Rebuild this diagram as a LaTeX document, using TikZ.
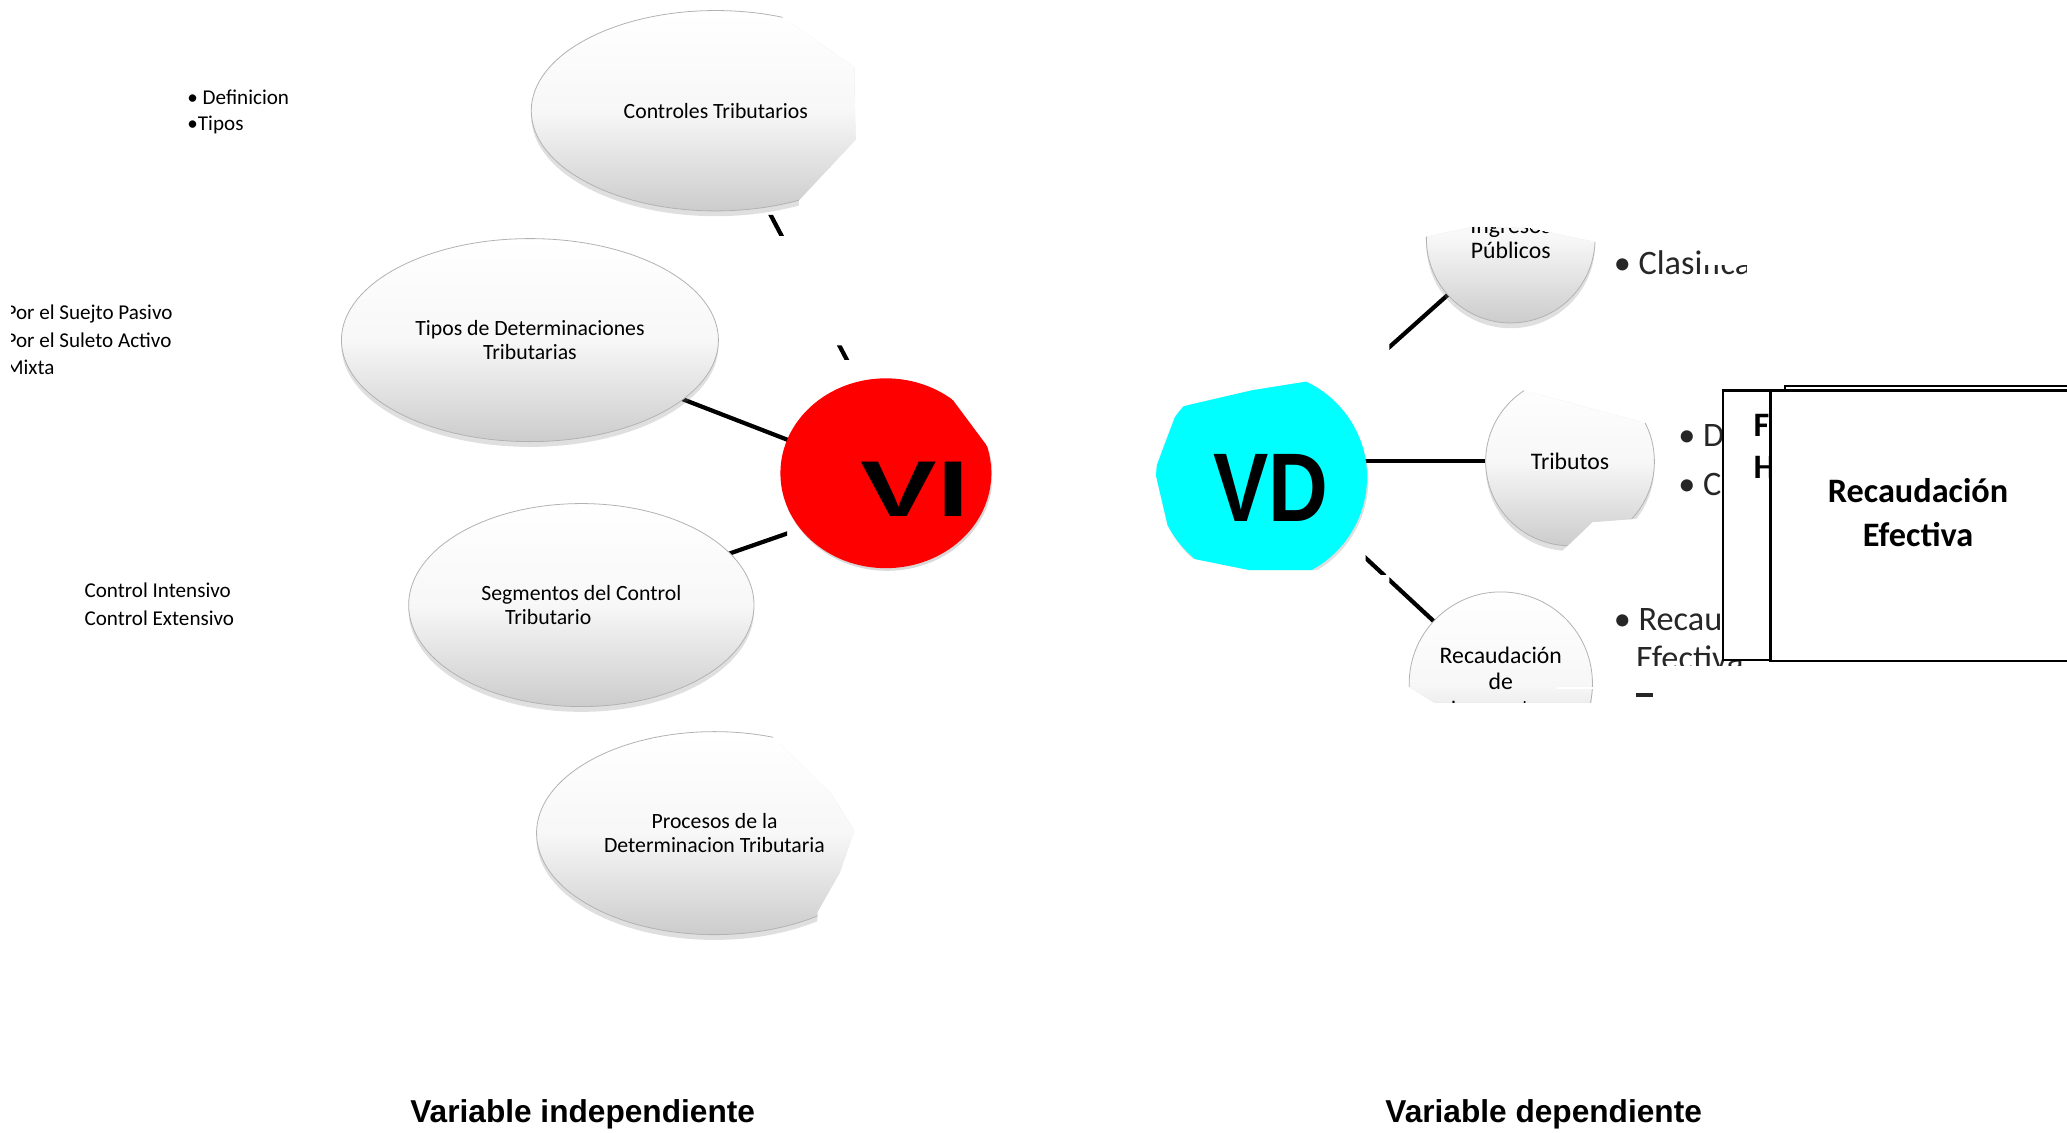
\documentclass[tikz,border=0pt]{standalone}
\usepackage{fontspec}
\setmainfont{Carlito}
\newfontfamily\labelfont{Liberation Sans}
\usetikzlibrary{shapes.geometric,shadows}
\pgfdeclarelayer{links}
\pgfsetlayers{links,main}
\definecolor{vired}{RGB}{255,0,0}
\definecolor{vdcyan}{RGB}{0,255,255}
\begin{document}
\begin{tikzpicture}[x=1pt,y=-1pt,
  bubble/.style={ellipse, draw=black!30, line width=0.6pt,
    top color=white, bottom color=black!20, middle color=black!3,
    inner sep=0pt, align=center, text=black,
    font=\fontsize{16.5}{18}\selectfont,
    drop shadow={shadow xshift=0pt,shadow yshift=-4pt,opacity=0.25}},
  ball/.style={bubble, circle, font=\fontsize{18}{19.5}\selectfont},
  link/.style={line width=3.2pt, black},
  note/.style={anchor=west, inner sep=0pt, font=\fontsize{16}{20}\selectfont},
  bignote/.style={anchor=base west, inner sep=0pt, text=black!85,
    font=\fontsize{26}{30}\selectfont},
  boldnote/.style={anchor=base west, inner sep=0pt,
    font=\fontsize{26}{33}\selectfont\bfseries},
  boxline/.style={draw=black, line width=2pt, fill=white},
  caption/.style={inner sep=0pt, font=\labelfont\bfseries\fontsize{24}{28}\selectfont},
  hubtext/.style={inner sep=0pt, font=\labelfont\bfseries}
]
\begin{pgfonlayer}{links}
  \fill[white] (0,0) rectangle (1568,859);
\end{pgfonlayer}
\useasboundingbox (0,0) rectangle (1568,859);

% ---------- left column notes ----------
\node[note] (defn) at (142,74) {• Definicion};
\node[note] (tipo) at (142,95) {•Tipos};
\begin{scope}
  \clip (9,220) rectangle (220,295);
  \node[note] (pasivo) at (4,238) {Por el Suejto Pasivo};
  \node[note] (activo) at (4,258) {Por el Suleto Activo};
  \node[note] (mixta)  at (4,279) {Mixta};
\end{scope}
\node[note] (intens) at (64,448) {Control Intensivo};
\node[note] (extens) at (64,469) {Control Extensivo};

% ---------- independent variable ----------
\begin{scope}
  \clip (380,0) -- (589,0) -- (589,10) -- (648,51) -- (649,106) -- (606,152)
        -- (606,175) -- (380,175) -- cycle;
  \node[bubble, minimum width=280pt, minimum height=152pt] (ctrl) at (543,84)
    {Controles Tributarios};
\end{scope}

\node[bubble, minimum width=286pt, minimum height=154pt] (tipos) at (402,258)
  {Tipos de Determinaciones\\Tributarias};

\node[bubble, align=left, minimum width=262pt, minimum height=154pt] (segm) at (441,459)
  {Segmentos del Control\\\hspace*{18pt}Tributario};

\begin{scope}
  \clip (390,540) -- (583,540) -- (583,556) -- (631,603) -- (648,630) -- (637,662)
        -- (620,692) -- (620,725) -- (390,725) -- cycle;
  \node[bubble, minimum width=270pt, minimum height=154pt] (proc) at (542,632)
    {Procesos de la\\Determinacion Tributaria};
\end{scope}

\begin{scope}
  \clip (580,270) -- (688,270) -- (688,287) -- (718,297) -- (753,344) -- (752,375)
        -- (745,398) -- (744,445) -- (580,445) -- cycle;
  \node[ellipse, fill=vired, minimum width=160pt, minimum height=144pt,
        drop shadow={shadow xshift=1pt,shadow yshift=-2pt,opacity=0.3}] (vi) at (672,359) {};
  \node[hubtext, font=\labelfont\bfseries\fontsize{60}{60}\selectfont] (vitext) at (694,371)
    {\scalebox{1.45}[1]{VI}};
\end{scope}

\begin{pgfonlayer}{links}
  \begin{scope}
    \clip (576,163) rectangle (600,179) (628,262) rectangle (648,273);
    \draw[link] (ctrl.center) -- ([xshift=22pt,yshift=-12pt]vi.center);
  \end{scope}
  \draw[link] (tipos.center) -- ([xshift=22pt,yshift=-12pt]vi.center);
  \begin{scope}
    \clip (440,380) rectangle (597,470);
    \draw[link] (segm.center) -- ([xshift=22pt,yshift=-12pt]vi.center);
  \end{scope}
\end{pgfonlayer}

% ---------- dependent variable ----------
\begin{scope}
  \clip (894,309) -- (950,296) -- (994,289) -- (1045,284) -- (1045,432.5)
        -- (948,432.5) -- (891,421) -- (876,357) -- cycle;
  \node[circle, fill=vdcyan, minimum size=160pt,
        drop shadow={shadow xshift=1pt,shadow yshift=-2pt,opacity=0.25}] (vd) at (957,362) {};
  \node[hubtext, font=\labelfont\bfseries\fontsize{74}{74}\selectfont] (vdtext) at (964,370)
    {\scalebox{0.85}[1]{VD}};
\end{scope}

\begin{scope}
  \clip (1075,181) -- (1118,172) -- (1160,173) -- (1212,184) -- (1215,265)
        -- (1075,265) -- cycle;
  \node[ball, minimum size=128pt] (ingresos) at (1146,181) {Ingresos\\Públicos};
\end{scope}

\begin{scope}
  \clip (1115,285) -- (1155,285) -- (1155,296) -- (1252,322) -- (1262,322)
        -- (1262,392) -- (1208,396) -- (1185,418) -- (1115,418) -- cycle;
  \node[ball, minimum size=128pt] (tributos) at (1191,350) {Tributos};
\end{scope}

\begin{scope}
  \clip (1060,440) -- (1216,440) -- (1216,533) -- (1088,533) -- (1069,521)
        -- (1060,521) -- cycle;
  \node[ball, minimum size=139pt, font=\fontsize{18}{20}\selectfont] (recaud) at (1138.5,518.5)
    {Recaudación\\de\\Impuestos};
\end{scope}
\draw[white, line width=1.5pt] (1181,522) -- (1211,522);

\begin{pgfonlayer}{links}
  \begin{scope}
    \clip (1054,215) rectangle (1110,268);
    \draw[link] ([yshift=12pt]vd.center) -- (ingresos.center);
  \end{scope}
  \draw[link] (tributos.center) -- (tributos.center -| vd.center);
  \begin{scope}
    \clip (1036,410) rectangle (1051.5,436) (1054,437.5) rectangle (1100,480);
    \draw[link] ([yshift=12pt]vd.center) -- (recaud.center);
  \end{scope}
\end{pgfonlayer}

% ---------- item lists beside the circles ----------
\begin{scope}
  \clip (1218,185) rectangle (1290,216) (1289,200.5) rectangle (1325,216);
  \node[bignote] (clasif1) at (1224,208) {• Clasifica};
\end{scope}
\node[bignote] (defin2) at (1273,339) {• De};
\node[bignote] (clasif2) at (1273,376) {• Cla};
\node[bignote] (recau) at (1224,478) {• Recaudación};
\begin{scope}
  \clip (1220,480) rectangle (1345,505);
  \node[bignote] (efect) at (1241,508) {Efectiva};
\end{scope}
\fill[black!85] (1241,526) rectangle (1254,528.5);

% ---------- stacked boxes ----------
\draw[boxline] (1354,292.8) rectangle (1590,498);
\draw[boxline] (1307,296) rectangle (1380,500.7);
\node[boldnote] (fa) at (1330,331) {F};
\node[boldnote] (ha) at (1330,363) {H};
\draw[boxline] (1343,296.4) rectangle (1590,501.5);
\node[inner sep=0pt, align=center, font=\fontsize{26}{33}\selectfont\bfseries] (boxtext)
  at (1455,389) {Recaudación\\Efectiva};

% ---------- captions ----------
\node[caption] (capvi) at (442,845) {Variable independiente};
\node[caption] (capvd) at (1171,845) {Variable dependiente};
\end{tikzpicture}
\end{document}
